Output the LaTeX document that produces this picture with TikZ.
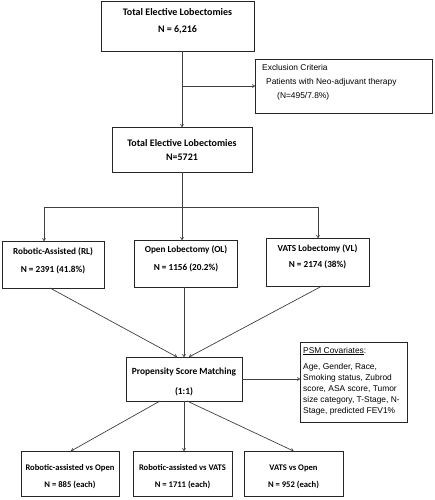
\documentclass[tikz,border=0pt]{standalone}
\usepackage{fontspec}
\setmainfont{Carlito}
\newfontfamily\arialf{Liberation Sans}
\usetikzlibrary{arrows.meta}
\begin{document}
\begin{tikzpicture}[x=1pt,y=-1pt,
  box/.style={draw=black!85, line width=0.8pt, inner sep=0pt, outer sep=0pt},
  bt/.style={font=\bfseries\fontsize{#1}{#1}\selectfont, inner sep=0pt, anchor=base},
  bt/.default=10,
  st/.style={font=\arialf\fontsize{8.4}{8.4}\selectfont, inner sep=0pt, anchor=base west},
  conn/.style={draw=black!75, line width=0.7pt},
  arr/.style={conn, -{To[length=3pt,width=3.5pt]}}]
\useasboundingbox (0,0) rectangle (434,500);

% boxes
\node[box, minimum width=153pt, minimum height=50pt] (b1) at (177.5,26) {};
\node[box, minimum width=177pt, minimum height=54pt] (ex) at (343.5,86) {};
\node[box, minimum width=140pt, minimum height=45pt] (b2) at (182,149.5) {};
\node[box, minimum width=102pt, minimum height=47pt] (rl) at (53,264.5) {};
\node[box, minimum width=103pt, minimum height=47pt] (ol) at (185.5,263.5) {};
\node[box, minimum width=103pt, minimum height=48pt] (vl) at (317.5,262) {};
\node[box, minimum width=116pt, minimum height=44pt] (psm) at (184,379) {};
\node[box, minimum width=107pt, minimum height=80pt] (cov) at (353.5,382) {};
\node[box, minimum width=98pt, minimum height=45pt] (r1) at (70,473.5) {};
\node[box, minimum width=99pt, minimum height=45pt] (r2) at (182.5,473.5) {};
\node[box, minimum width=99pt, minimum height=45pt] (r3) at (293.5,473.5) {};

% texts
\node[bt] (t1a) at (177.5,15.3) {Total Elective Lobectomies};
\node[bt] (t1b) at (177.5,32.3) {N = 6,216};
\node[st] (ea) at (262,71) {Exclusion Criteria};
\node[st] (eb) at (266,85) {Patients with Neo-adjuvant therapy};
\node[st] (ec) at (277,99) {(N=495/7.8\%)};
\node[bt] (t2a) at (182,146.3) {Total Elective Lobectomies};
\node[bt] (t2b) at (182,160.3) {N=5721};
\node[bt=9.2] (rla) at (53,254) {Robotic-Assisted (RL)};
\node[bt=9.2] (rlb) at (53,272) {N = 2391 (41.8\%)};
\node[bt=9.2] (ola) at (186,252) {Open Lobectomy (OL)};
\node[bt=9.2] (olb) at (186,270) {N = 1156 (20.2\%)};
\node[bt=9.2] (vla) at (317.5,251) {VATS Lobectomy (VL)};
\node[bt=9.2] (vlb) at (317.5,267) {N = 2174 (38\%)};
\node[bt=9.4] (pa) at (184,374) {Propensity Score Matching};
\node[bt=9.4] (pb) at (184,394) {(1:1)};
\node[st] (ca) at (303,353) {\underline{PSM Covariates}:};
\node[st] (cb) at (303,369) {Age, Gender, Race,};
\node[st] (cc) at (303,380) {Smoking status, Zubrod};
\node[st] (cd) at (303,391) {score, ASA score, Tumor};
\node[st] (ce) at (303,402) {size category, T-Stage, N-};
\node[st] (cf) at (303,413) {Stage, predicted FEV1\%};
\node[bt=8.6] (r1a) at (70,470) {Robotic-assisted vs Open};
\node[bt=8.6] (r1b) at (70,487) {N = 885 (each)};
\node[bt=8.6] (r2a) at (182.5,470) {Robotic-assisted vs VATS};
\node[bt=8.6] (r2b) at (182.5,487) {N = 1711 (each)};
\node[bt=8.6] (r3a) at (293.5,470) {VATS vs Open};
\node[bt=8.6] (r3b) at (293.5,487) {N = 952 (each)};

% connectors
\draw[arr] (b1.south -| b2.north) -- (b2.north);
\draw[arr] (ex.west -| b2.north) -- (ex.west);
\coordinate (jL) at (44,207);
\coordinate (jR) at (318,207);
\draw[conn] (jL) -- (jR);
\draw[arr] (b2.south) -- (b2.south |- ol.north);
\draw[arr] (jL) -- (jL |- rl.north);
\draw[arr] (jR) -- (jR |- vl.north);
\draw[arr] ([xshift=-3pt]rl.south) -- ([xshift=-7pt]psm.north);
\draw[arr] ([xshift=-1.5pt]ol.south) -- ([xshift=-1.5pt]ol.south |- psm.north);
\draw[arr] ([xshift=4.5pt]vl.south) -- ([xshift=5pt]psm.north);
\draw[arr] (psm.east) -- (psm.east -| cov.west);
\draw[arr] ([xshift=-24pt]psm.south) -- ([xshift=1pt]r1.north);
\draw[arr] (psm.south) -- (psm.south |- r2.north);
\draw[arr] ([xshift=3pt]psm.south) -- (r3.north);
\end{tikzpicture}
\end{document}
